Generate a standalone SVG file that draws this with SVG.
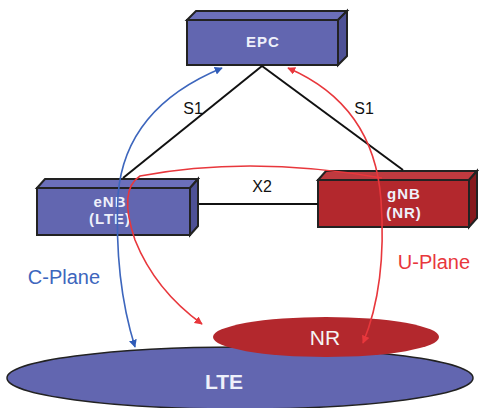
<svg xmlns="http://www.w3.org/2000/svg" width="485" height="408" viewBox="0 0 485 408">
<style>
.front{fill:#6266b0;stroke:#222;stroke-width:2}
.top{fill:#6b6fba;stroke:#222;stroke-width:2}
.side{fill:#4e5196;stroke:#222;stroke-width:2}
.rfront{fill:#b3282d;stroke:#222;stroke-width:2}
.rtop{fill:#bf3a3f;stroke:#222;stroke-width:2}
.rside{fill:#87191d;stroke:#222;stroke-width:2}
.bt{font-family:"Liberation Sans",Arial,sans-serif;font-weight:bold;fill:#eef0fa;text-anchor:middle}
.nt{font-size:15px;letter-spacing:1px}
.lbl{font-family:"Liberation Sans",Arial,sans-serif;font-size:16px;fill:#111;text-anchor:middle}
.link{stroke:#111;stroke-width:2;fill:none}
.blue{stroke:#3d66bd;stroke-width:1.6;fill:none}
.red{stroke:#e8373c;stroke-width:1.6;fill:none}
</style>
<defs>
<marker id="ab" viewBox="0 0 10 10" refX="9" refY="5" markerWidth="8" markerHeight="8" orient="auto-start-reverse" markerUnits="userSpaceOnUse"><path d="M0,0 L10,5 L0,10 z" fill="#2f5bb8"/></marker>
<marker id="ar" viewBox="0 0 10 10" refX="9" refY="5" markerWidth="8" markerHeight="8" orient="auto" markerUnits="userSpaceOnUse"><path d="M0,0 L10,5 L0,10 z" fill="#e8373c"/></marker>
</defs>
<g id="lte-cell">
<ellipse cx="240" cy="378" rx="233" ry="31" fill="#6266b0" stroke="#222" stroke-width="1.5"/>
<text x="224" y="389" class="bt" font-size="21">LTE</text>
</g>
<g id="nr-cell">
<ellipse cx="326" cy="337" rx="113" ry="20" fill="#b3282d"/>
<text x="325" y="345" font-family="Liberation Sans,Arial,sans-serif" font-size="21" fill="#f4f4f4" text-anchor="middle">NR</text>
</g>
<g id="epc">
<polygon class="top" points="187,20 196,11 347,11 338,20"/>
<polygon class="side" points="338,20 347,11 347,56 338,65"/>
<rect class="front" x="187" y="20" width="151" height="45"/>
<text x="263" y="47" class="bt nt">EPC</text>
</g>
<g id="enb">
<polygon class="top" points="37,188 45,179 198,179 190,188"/>
<polygon class="side" points="190,188 198,179 198,226 190,235"/>
<rect class="front" x="37" y="188" width="153" height="47"/>
<text x="110" y="207" class="bt nt">eNB</text>
<text x="110" y="224" class="bt nt">(LTE)</text>
</g>
<g id="gnb">
<polygon class="rtop" points="318,180 326,171 477,171 469,180"/>
<polygon class="rside" points="469,180 477,171 477,218 469,227"/>
<rect class="rfront" x="318" y="180" width="151" height="47"/>
<text x="404" y="199" class="bt nt">gNB</text>
<text x="404" y="218" class="bt nt">(NR)</text>
</g>
<g id="connectors">
<line class="link" x1="262" y1="66" x2="123" y2="178"/>
<line class="link" x1="262" y1="66" x2="403" y2="170"/>
<line class="link" x1="199" y1="204" x2="318" y2="204"/>
<text x="193" y="114" class="lbl">S1</text>
<text x="364" y="114" class="lbl">S1</text>
<text x="262" y="192" class="lbl">X2</text>
<path class="blue" d="M222,68 Q125,108 118,195 Q114,280 135,347" marker-start="url(#ab)" marker-end="url(#ab)"/>
<path class="red" d="M381,200 Q374,105 288,68" marker-end="url(#ar)"/>
<path class="red" d="M381,200 Q387,285 363,343" marker-end="url(#ar)"/>
<path class="red" d="M382,178 Q250,155 140,176 Q118,190 135,240 Q155,290 202,324" marker-end="url(#ar)"/>
</g>
<text x="64" y="284" font-family="Liberation Sans,Arial,sans-serif" font-size="20" fill="#3d66bd" text-anchor="middle">C-Plane</text>
<text x="434" y="269" font-family="Liberation Sans,Arial,sans-serif" font-size="20" fill="#e8373c" text-anchor="middle">U-Plane</text>
</svg>
